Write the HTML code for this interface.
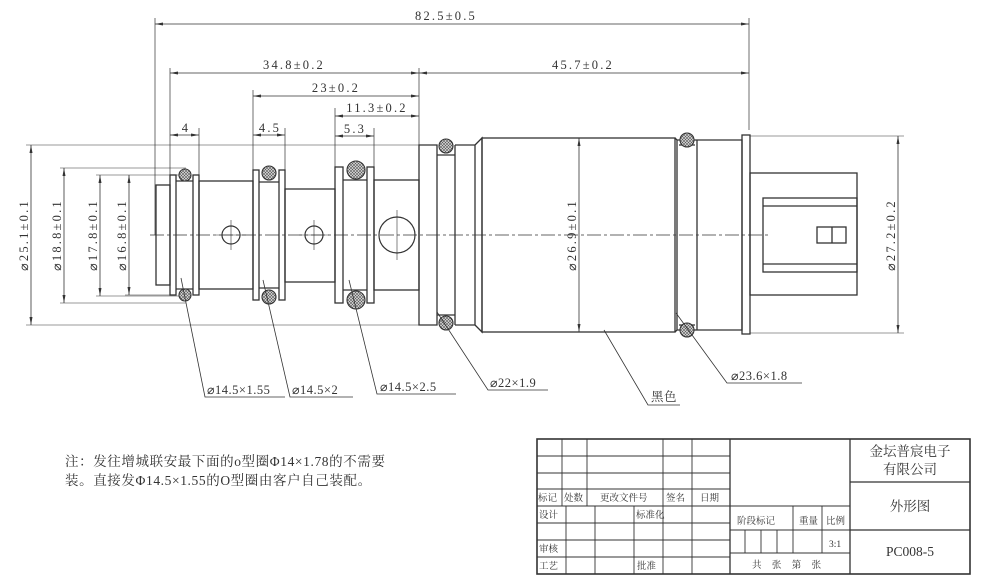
<!DOCTYPE html>
<html><head><meta charset="utf-8"><style>
html,body{margin:0;padding:0;background:#fff;}
svg{display:block;}
text{font-family:"Liberation Serif","Noto Serif CJK SC",serif;fill:#333;}
</style></head><body>
<svg width="992" height="585" viewBox="0 0 992 585" xmlns="http://www.w3.org/2000/svg">
<defs>
<pattern id="h" width="3" height="3" patternUnits="userSpaceOnUse"><rect width="3" height="3" fill="#ddd"/><path d="M0 0L3 3M3 0L0 3" stroke="#555" stroke-width="0.6"/></pattern>
<marker id="a" markerWidth="8" markerHeight="6" refX="8" refY="3" orient="auto-start-reverse" markerUnits="userSpaceOnUse"><path d="M0 1.5L8 3L0 4.5z" fill="#333"/></marker>
</defs>
<g stroke="#333" fill="none" stroke-width="1">
<path d="M155 18V235M749 18V130M170 68V175M419 68V145M253 90V170M335 108V167M199 128V175M285 128V170M374 128V167" stroke-width="0.7"/>
<g stroke-width="0.8" marker-start="url(#a)" marker-end="url(#a)">
<line x1="155" y1="24" x2="749" y2="24"/>
<line x1="170" y1="73" x2="419" y2="73"/>
<line x1="419" y1="73" x2="749" y2="73"/>
<line x1="253" y1="96" x2="419" y2="96"/>
<line x1="335" y1="116" x2="419" y2="116"/>
<line x1="170" y1="135" x2="199" y2="135"/>
<line x1="253" y1="135" x2="285" y2="135"/>
<line x1="335" y1="136" x2="374" y2="136"/>
<line x1="31" y1="145" x2="31" y2="325"/>
<line x1="64" y1="168" x2="64" y2="303"/>
<line x1="100" y1="175" x2="100" y2="296"/>
<line x1="129" y1="175" x2="129" y2="295"/>
<line x1="579" y1="138" x2="579" y2="332"/>
<line x1="898" y1="136" x2="898" y2="333"/>
</g>
<path d="M26 145H420M26 325H437M60 168H186M60 303H186M96 175H186M96 296H186M125 175H176M125 295H176M750 136H904M750 333H904" stroke-width="0.6"/>
<line x1="150" y1="235" x2="770" y2="235" stroke-width="0.7" stroke-dasharray="14 3 3 3"/>
<g stroke-width="1.3">
<rect x="156" y="185" width="14" height="100"/>
<rect x="170" y="175" width="6" height="120"/>
<rect x="193" y="175" width="6" height="120"/>
<path d="M176 181H193M176 289H193"/>
<rect x="199" y="181" width="54" height="108"/>
<rect x="253" y="170" width="6" height="130"/>
<rect x="279" y="170" width="6" height="130"/>
<path d="M259 182H279M259 288H279"/>
<rect x="285" y="189" width="50" height="93"/>
<rect x="335" y="167" width="8" height="136"/>
<rect x="367" y="167" width="7" height="136"/>
<path d="M343 180H367M343 290H367"/>
<rect x="374" y="180" width="45" height="110"/>
<path d="M419 145H437V325H419ZM437 145V325M455 145V325M437 155H455M437 315H455M455 145H475V325H455M475 145L482 138V332L475 325"/>
<rect x="482" y="138" width="193" height="194"/>
<path d="M675 138L677 140V330L675 332M677 140H697V330H677M697 140H742V330H697M679 145H695M679 325H695"/>
<rect x="742" y="135" width="8" height="199"/>
<rect x="750" y="173" width="107" height="122"/>
<rect x="763" y="198" width="94" height="74"/>
<path d="M763 206H857M763 264H857"/>
<rect x="817" y="227" width="29" height="16"/>
<path d="M832 227V243"/>
</g>
<circle cx="231" cy="235" r="9" stroke-width="1.2"/>
<circle cx="314" cy="235" r="9" stroke-width="1.2"/>
<circle cx="397" cy="235" r="18" stroke-width="1.2"/>
<path d="M231 220V250M314 220V250M397 210V260M216 235H246M299 235H329" stroke-width="0.6"/>
<g fill="url(#h)" stroke-width="1.1">
<circle cx="185" cy="175" r="6"/><circle cx="185" cy="295" r="6"/>
<circle cx="269" cy="173" r="7"/><circle cx="269" cy="297" r="7"/>
<circle cx="356" cy="170" r="9"/><circle cx="356" cy="300" r="9"/>
<circle cx="446" cy="146" r="7"/><circle cx="446" cy="323" r="7"/>
<circle cx="687" cy="140" r="7"/><circle cx="687" cy="330" r="7"/>
</g>
<g stroke-width="0.8">
<path d="M181 278L205 397H285"/>
<path d="M263 280L290 397H353"/>
<path d="M349 280L377 394H456"/>
<path d="M437 312L488 390H548"/>
<path d="M604 330L648 405H680"/>
<path d="M676 313L727 383H802"/>
</g>
<g stroke-width="1">
<rect x="537" y="439" width="433" height="135" stroke-width="1.6"/>
<path d="M730 439V574M850 439V574" stroke-width="1.3"/>
<path d="M537 456H730M537 473H730M537 489H730M537 506H850" stroke-width="0.9"/>
<path d="M537 523H730M537 540H730M537 557H730" stroke-width="0.9"/>
<path d="M562 439V506M587 439V506M663 439V574M692 439V574" stroke-width="0.9"/>
<path d="M566 506V574M595 506V574M634 506V574" stroke-width="0.9"/>
<path d="M730 530H850M730 553H850M793 506V553M822 506V553M745 530V553M761 530V553M777 530V553" stroke-width="0.9"/>
<path d="M850 482H970M850 530H970" stroke-width="1.2"/>
</g>
</g>
<g font-size="12.5" text-anchor="middle" letter-spacing="2.2">
<text x="446" y="20">82.5±0.5</text>
<text x="294" y="69">34.8±0.2</text>
<text x="583" y="69">45.7±0.2</text>
<text x="336" y="92">23±0.2</text>
<text x="377" y="112">11.3±0.2</text>
<text x="186" y="132">4</text>
<text x="270" y="132">4.5</text>
<text x="355" y="133">5.3</text>
<text transform="translate(28 235) rotate(-90)">⌀25.1±0.1</text>
<text transform="translate(61 235) rotate(-90)">⌀18.8±0.1</text>
<text transform="translate(97 235) rotate(-90)">⌀17.8±0.1</text>
<text transform="translate(126 235) rotate(-90)">⌀16.8±0.1</text>
<text transform="translate(576 235) rotate(-90)">⌀26.9±0.1</text>
<text transform="translate(895 235) rotate(-90)">⌀27.2±0.2</text>
</g>
<g font-size="12.5" letter-spacing="0.5">
<text x="207" y="394">⌀14.5×1.55</text>
<text x="292" y="394">⌀14.5×2</text>
<text x="380" y="391">⌀14.5×2.5</text>
<text x="490" y="387">⌀22×1.9</text>
<text x="651" y="401">黑色</text>
<text x="731" y="380">⌀23.6×1.8</text>
</g>
<g font-size="13.5" letter-spacing="0.6">
<text x="65" y="466">注：发往增城联安最下面的o型圈Φ14×1.78的不需要</text>
<text x="65" y="485">装。直接发Φ14.5×1.55的O型圈由客户自己装配。</text>
</g>
<g font-size="9.5" fill="#444">
<text x="538" y="501">标记</text><text x="564" y="501">处数</text><text x="600" y="501">更改文件号</text><text x="666" y="501">签名</text><text x="700" y="501">日期</text>
<text x="539" y="518">设计</text><text x="636" y="518">标准化</text>
<text x="539" y="552">审核</text><text x="539" y="569">工艺</text><text x="637" y="569">批准</text>
<text x="737" y="524">阶段标记</text><text x="799" y="524">重量</text><text x="826" y="524">比例</text>
<text x="829" y="547">3:1</text>
<text x="752" y="568" letter-spacing="4">共 张 第 张</text>
</g>
<g font-size="13.5" text-anchor="middle">
<text x="910" y="456">金坛普宸电子</text>
<text x="910" y="474">有限公司</text>
<text x="910" y="511">外形图</text>
<text x="910" y="556">PC008-5</text>
</g>
</svg>
</body></html>
